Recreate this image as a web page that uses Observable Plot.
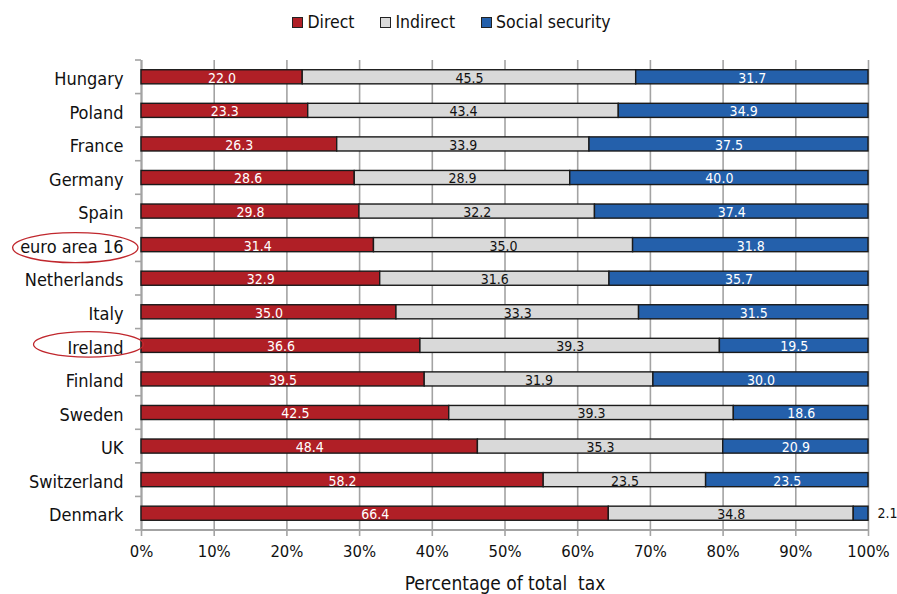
<!DOCTYPE html>
<html><head><meta charset="utf-8">
<script src="https://cdn.jsdelivr.net/npm/d3@7"></script>
<script src="https://cdn.jsdelivr.net/npm/@observablehq/plot@0.6"></script>
<style>
body{margin:0;background:#fff;font-family:"DejaVu Sans Condensed","DejaVu Sans",sans-serif;color:#111;}
#legend{height:44px;display:flex;justify-content:center;align-items:center;gap:26px;font-size:17.5px;padding-left:6px;box-sizing:border-box;}
#legend .item{display:flex;align-items:center;gap:4px;}
#legend .sw{width:9px;height:9px;border:1.5px solid #222;display:inline-block;}
#chart svg{display:block;}
</style></head><body>
<div id="legend"></div>
<div id="chart"></div>
<script>
const countries = ["Hungary","Poland","France","Germany","Spain","euro area 16","Netherlands","Italy","Ireland","Finland","Sweden","UK","Switzerland","Denmark"];
const direct   = [22.0,23.3,26.3,28.6,29.8,31.4,32.9,35.0,36.6,39.5,42.5,48.4,58.2,66.4];
const indirect = [45.5,43.4,33.9,28.9,32.2,35.0,31.6,33.3,39.3,31.9,39.3,35.3,23.5,34.8];
const social   = [31.7,34.9,37.5,40.0,37.4,31.8,35.7,31.5,19.5,30.0,18.6,20.9,23.5,2.1];
const types = ["Direct","Indirect","Social security"];
const colors = ["#b01f26","#d9d9d9","#2460ab"];
const xTicks = [0,0.1,0.2,0.3,0.4,0.5,0.6,0.7,0.8,0.9,1.0];
const xTitle = "Percentage of total\u00a0 tax";
const highlighted = ["euro area 16","Ireland"];
const FONT = "DejaVu Sans Condensed, DejaVu Sans, sans-serif";

// legend
const lg = d3.select("#legend");
types.forEach((t,i)=>{
  const it = lg.append("div").attr("class","item");
  it.append("span").attr("class","sw").style("background",colors[i]);
  it.append("span").text(t);
});

const rows = [];
countries.forEach((c,i)=>{
  [direct,indirect,social].forEach((arr,j)=>rows.push({country:c,type:types[j],value:arr[i]}));
});
const small = d => d.type===types[2] && d.value < 5;
const fmt = d => d.value.toFixed(1);
const stackOpts = {x:"value", y:"country", z:"type", offset:"normalize", order: types};

const plot = Plot.plot({
  width: 897, height: 550,
  marginTop: 16, marginBottom: 64, marginLeft: 141, marginRight: 29,
  style: {fontFamily: FONT, fontSize: "14px", background: "#fff", overflow: "visible"},
  x: {domain: [0,1], label: null},
  y: {domain: countries, paddingInner: 0.58, paddingOuter: 0.29, round: false, label: null},
  color: {domain: types, range: colors},
  marks: [
    Plot.gridX(xTicks, {stroke: "#a3a3a3", strokeOpacity: 1, strokeWidth: 1.6}),
    Plot.ruleX([0], {stroke: "#a3a3a3", strokeWidth: 2}),
    Plot.barX(rows, Plot.stackX({...stackOpts, fill: "type", stroke: "#1a1a1a", strokeWidth: 1.4})),
    Plot.text(rows, Plot.stackX({...stackOpts, text: d => d.type===types[0] ? fmt(d) : "", fill: "#fff", fontSize: 14, dy: 1})),
    Plot.text(rows, Plot.stackX({...stackOpts, text: d => d.type===types[1] ? fmt(d) : "", fill: "#111", fontSize: 14, dy: 1})),
    Plot.text(rows, Plot.stackX({...stackOpts, text: d => d.type===types[2] && !small(d) ? fmt(d) : "", fill: "#fff", fontSize: 14, dy: 1})),
    Plot.text(rows, Plot.stackX2({...stackOpts, text: d => small(d) ? fmt(d) : "", fill: "#111", fontSize: 14, textAnchor: "start", dx: 9})),
    Plot.axisX({ticks: xTicks, tickFormat: d3.format(".0%"), tickSize: 6, tickPadding: 9, stroke: "#a3a3a3", fill: "#111", fontSize: 16.5, label: null, strokeWidth: 1.6}),
    Plot.axisY({tickSize: 0, tickPadding: 18, fontSize: 18, fill: "#111", label: null, dy: 2}),
    Plot.text([xTitle], {frameAnchor: "bottom", dy: 59, fontSize: 19, fill: "#111"})
  ]
});
document.getElementById("chart").appendChild(plot);

// axis lines & band-boundary ticks
const svg = d3.select(plot);
const ys = plot.scale("y"), xs = plot.scale("x");
const bw = ys.bandwidth;
const starts = countries.map(c => ys.apply(c));
const step = starts[1]-starts[0];
const pad = (step - bw)/2;
const x0 = xs.apply(0), x1 = xs.apply(1);
const yBottom = starts[starts.length-1] + bw + pad;
const g = svg.append("g").attr("stroke","#a3a3a3").attr("stroke-width",1.6);
g.append("line").attr("x1",x0).attr("x2",x1).attr("y1",yBottom).attr("y2",yBottom).attr("stroke-width",2);
for (let i=0;i<=countries.length;i++){
  const yy = starts[0]-pad+i*step;
  g.append("line").attr("x1",x0-6).attr("x2",x0).attr("y1",yy).attr("y2",yy);
}
// ellipses around highlighted labels
const extra = {"euro area 16": {rx: 11, dx: 3.5, ry: 15, dy: 3}, "Ireland": {rx: 27, dx: -7, ry: 12.8, dy: -1}};
svg.selectAll("text").each(function(){
  const t = this.textContent;
  if (highlighted.includes(t)) {
    const b = this.getBBox();
    const m = this.getCTM();
    const cx = m.e + b.x + b.width/2, cy = ys.apply(t) + bw/2;
    const e = extra[t];
    svg.append("ellipse").attr("cx",cx+e.dx).attr("cy",cy+e.dy).attr("rx",b.width/2+e.rx).attr("ry",e.ry)
      .attr("fill","none").attr("stroke","#c0272d").attr("stroke-width",1.3);
  }
});
</script>
</body></html>
